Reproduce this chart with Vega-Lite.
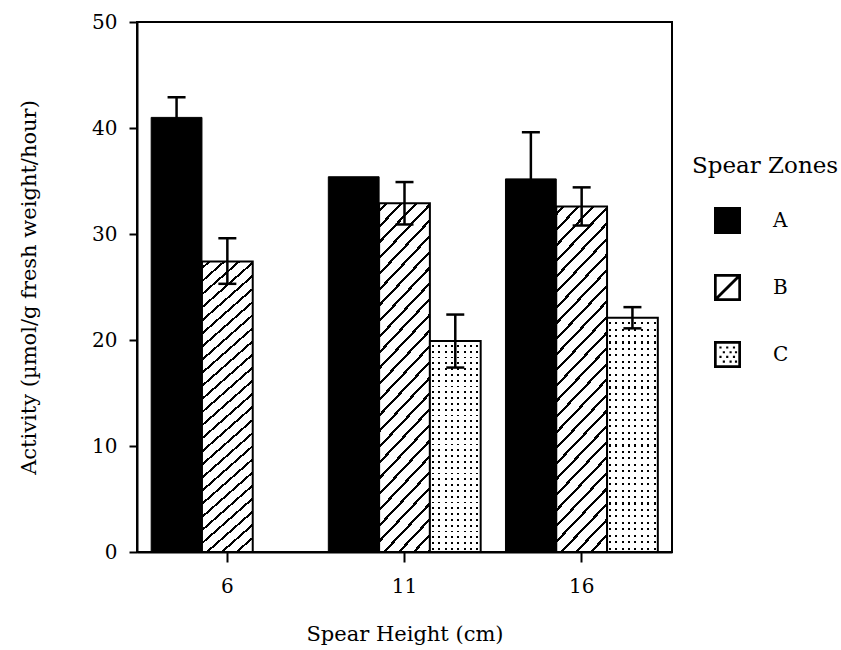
{
  "$schema": "https://vega.github.io/schema/vega-lite/v6.json",
  "width": 535,
  "height": 530,
  "autosize": {"type": "none"},
  "padding": {"left": 137, "top": 22, "right": 169, "bottom": 98},
  "background": "white",
  "config": {
    "view": {"stroke": "black", "strokeWidth": 2},
    "axis": {
      "domainColor": "black", "domainWidth": 2, "tickColor": "black", "tickWidth": 2,
      "labelFont": "DejaVu Serif", "labelFontSize": 20, "labelColor": "black",
      "titleFont": "DejaVu Serif", "titleFontSize": 21, "titleFontWeight": "normal", "titleColor": "black",
      "grid": false
    }
  },
  "data": {"values": [
    {"height": 6, "zone": "A", "value": 41.0, "lo": 39.1, "hi": 42.9},
    {"height": 6, "zone": "B", "value": 27.4, "lo": 25.3, "hi": 29.6},
    {"height": 11, "zone": "A", "value": 35.4, "lo": null, "hi": null},
    {"height": 11, "zone": "B", "value": 32.9, "lo": 30.9, "hi": 34.9},
    {"height": 11, "zone": "C", "value": 19.9, "lo": 17.4, "hi": 22.4},
    {"height": 16, "zone": "A", "value": 35.2, "lo": 30.8, "hi": 39.6},
    {"height": 16, "zone": "B", "value": 32.6, "lo": 30.8, "hi": 34.4},
    {"height": 16, "zone": "C", "value": 22.1, "lo": 21.1, "hi": 23.1}
  ]},
  "encoding": {
    "x": {"field": "height", "type": "ordinal", "title": "Spear Height (cm)",
      "scale": {"paddingInner": 0.14, "paddingOuter": 0.08},
      "axis": {"labelAngle": 0, "tickSize": 10, "labelPadding": 14, "titlePadding": 27}},
    "xOffset": {"field": "zone", "type": "nominal", "scale": {"domain": ["A", "B", "C"], "paddingInner": 0, "paddingOuter": 0}}
  },
  "layer": [
    {
      "transform": [{"filter": "datum.zone === 'A'"}],
      "mark": {"type": "bar", "fill": "black", "stroke": "black", "strokeWidth": 1},
      "encoding": {"y": {"field": "value", "type": "quantitative", "title": "Activity (µmol/g fresh weight/hour)",
        "scale": {"domain": [0, 50], "nice": false},
        "axis": {"values": [0, 10, 20, 30, 40, 50], "tickSize": 8, "labelPadding": 12, "titlePadding": 52}}}
    },
    {
      "transform": [{"filter": "datum.zone === 'B'"}],
      "mark": {"type": "bar", "stroke": "black", "strokeWidth": 2,
        "fill": {"gradient": "linear", "x1": 0, "y1": 0, "x2": 1, "y2": 6.48, "stops": [
          {"offset": 0, "color": "#fff"},
          {"offset": 0.0027, "color": "#fff"}, {"offset": 0.0027, "color": "#000"}, {"offset": 0.0041, "color": "#000"}, {"offset": 0.0041, "color": "#fff"},
          {"offset": 0.0095, "color": "#fff"}, {"offset": 0.0095, "color": "#000"}, {"offset": 0.0109, "color": "#000"}, {"offset": 0.0109, "color": "#fff"},
          {"offset": 0.0163, "color": "#fff"}, {"offset": 0.0163, "color": "#000"}, {"offset": 0.0177, "color": "#000"}, {"offset": 0.0177, "color": "#fff"},
          {"offset": 0.0231, "color": "#fff"}, {"offset": 0.0231, "color": "#000"}, {"offset": 0.0245, "color": "#000"}, {"offset": 0.0245, "color": "#fff"},
          {"offset": 0.0299, "color": "#fff"}, {"offset": 0.0299, "color": "#000"}, {"offset": 0.0313, "color": "#000"}, {"offset": 0.0313, "color": "#fff"},
          {"offset": 0.0367, "color": "#fff"}, {"offset": 0.0367, "color": "#000"}, {"offset": 0.0381, "color": "#000"}, {"offset": 0.0381, "color": "#fff"},
          {"offset": 0.0435, "color": "#fff"}, {"offset": 0.0435, "color": "#000"}, {"offset": 0.0449, "color": "#000"}, {"offset": 0.0449, "color": "#fff"},
          {"offset": 0.0503, "color": "#fff"}, {"offset": 0.0503, "color": "#000"}, {"offset": 0.0517, "color": "#000"}, {"offset": 0.0517, "color": "#fff"},
          {"offset": 0.0571, "color": "#fff"}, {"offset": 0.0571, "color": "#000"}, {"offset": 0.0585, "color": "#000"}, {"offset": 0.0585, "color": "#fff"},
          {"offset": 0.0639, "color": "#fff"}, {"offset": 0.0639, "color": "#000"}, {"offset": 0.0653, "color": "#000"}, {"offset": 0.0653, "color": "#fff"},
          {"offset": 0.0707, "color": "#fff"}, {"offset": 0.0707, "color": "#000"}, {"offset": 0.0721, "color": "#000"}, {"offset": 0.0721, "color": "#fff"},
          {"offset": 0.0775, "color": "#fff"}, {"offset": 0.0775, "color": "#000"}, {"offset": 0.0789, "color": "#000"}, {"offset": 0.0789, "color": "#fff"},
          {"offset": 0.0843, "color": "#fff"}, {"offset": 0.0843, "color": "#000"}, {"offset": 0.0857, "color": "#000"}, {"offset": 0.0857, "color": "#fff"},
          {"offset": 0.0911, "color": "#fff"}, {"offset": 0.0911, "color": "#000"}, {"offset": 0.0925, "color": "#000"}, {"offset": 0.0925, "color": "#fff"},
          {"offset": 0.0979, "color": "#fff"}, {"offset": 0.0979, "color": "#000"}, {"offset": 0.0993, "color": "#000"}, {"offset": 0.0993, "color": "#fff"},
          {"offset": 0.1047, "color": "#fff"}, {"offset": 0.1047, "color": "#000"}, {"offset": 0.1061, "color": "#000"}, {"offset": 0.1061, "color": "#fff"},
          {"offset": 0.1115, "color": "#fff"}, {"offset": 0.1115, "color": "#000"}, {"offset": 0.1129, "color": "#000"}, {"offset": 0.1129, "color": "#fff"},
          {"offset": 0.1183, "color": "#fff"}, {"offset": 0.1183, "color": "#000"}, {"offset": 0.1197, "color": "#000"}, {"offset": 0.1197, "color": "#fff"},
          {"offset": 0.1251, "color": "#fff"}, {"offset": 0.1251, "color": "#000"}, {"offset": 0.1265, "color": "#000"}, {"offset": 0.1265, "color": "#fff"},
          {"offset": 0.1319, "color": "#fff"}, {"offset": 0.1319, "color": "#000"}, {"offset": 0.1333, "color": "#000"}, {"offset": 0.1333, "color": "#fff"},
          {"offset": 0.1387, "color": "#fff"}, {"offset": 0.1387, "color": "#000"}, {"offset": 0.1401, "color": "#000"}, {"offset": 0.1401, "color": "#fff"},
          {"offset": 0.1455, "color": "#fff"}, {"offset": 0.1455, "color": "#000"}, {"offset": 0.1469, "color": "#000"}, {"offset": 0.1469, "color": "#fff"},
          {"offset": 0.1523, "color": "#fff"}, {"offset": 0.1523, "color": "#000"}, {"offset": 0.1537, "color": "#000"}, {"offset": 0.1537, "color": "#fff"},
          {"offset": 0.1591, "color": "#fff"}, {"offset": 0.1591, "color": "#000"}, {"offset": 0.1605, "color": "#000"}, {"offset": 0.1605, "color": "#fff"},
          {"offset": 0.1659, "color": "#fff"}, {"offset": 0.1659, "color": "#000"}, {"offset": 0.1673, "color": "#000"}, {"offset": 0.1673, "color": "#fff"},
          {"offset": 0.1727, "color": "#fff"}, {"offset": 0.1727, "color": "#000"}, {"offset": 0.1741, "color": "#000"}, {"offset": 0.1741, "color": "#fff"},
          {"offset": 1, "color": "#fff"}
        ]}},
      "encoding": {"y": {"field": "value", "type": "quantitative", "title": "Activity (µmol/g fresh weight/hour)"}}
    },
    {
      "transform": [{"filter": "datum.zone === 'C'"}],
      "mark": {"type": "bar", "fill": "black"},
      "encoding": {"y": {"field": "value", "type": "quantitative", "title": "Activity (µmol/g fresh weight/hour)"}}
    },
    {
      "transform": [{"filter": "datum.zone === 'C'"}],
      "mark": {"type": "bar",
        "fill": {"gradient": "linear", "x1": 0, "y1": 0, "x2": 1, "y2": 0, "stops": [
          {"offset": 0, "color": "#fff"}, {"offset": 0.04, "color": "#fff"}, {"offset": 0.04, "color": "rgba(255,255,255,0)"}, {"offset": 0.08, "color": "rgba(255,255,255,0)"},
          {"offset": 0.08, "color": "#fff"}, {"offset": 0.165, "color": "#fff"}, {"offset": 0.165, "color": "rgba(255,255,255,0)"}, {"offset": 0.205, "color": "rgba(255,255,255,0)"},
          {"offset": 0.205, "color": "#fff"}, {"offset": 0.29, "color": "#fff"}, {"offset": 0.29, "color": "rgba(255,255,255,0)"}, {"offset": 0.33, "color": "rgba(255,255,255,0)"},
          {"offset": 0.33, "color": "#fff"}, {"offset": 0.415, "color": "#fff"}, {"offset": 0.415, "color": "rgba(255,255,255,0)"}, {"offset": 0.455, "color": "rgba(255,255,255,0)"},
          {"offset": 0.455, "color": "#fff"}, {"offset": 0.54, "color": "#fff"}, {"offset": 0.54, "color": "rgba(255,255,255,0)"}, {"offset": 0.58, "color": "rgba(255,255,255,0)"},
          {"offset": 0.58, "color": "#fff"}, {"offset": 0.665, "color": "#fff"}, {"offset": 0.665, "color": "rgba(255,255,255,0)"}, {"offset": 0.705, "color": "rgba(255,255,255,0)"},
          {"offset": 0.705, "color": "#fff"}, {"offset": 0.79, "color": "#fff"}, {"offset": 0.79, "color": "rgba(255,255,255,0)"}, {"offset": 0.83, "color": "rgba(255,255,255,0)"},
          {"offset": 0.83, "color": "#fff"}, {"offset": 0.915, "color": "#fff"}, {"offset": 0.915, "color": "rgba(255,255,255,0)"}, {"offset": 0.955, "color": "rgba(255,255,255,0)"},
          {"offset": 0.955, "color": "#fff"}, {"offset": 1, "color": "#fff"}
        ]}},
      "encoding": {"y": {"field": "value", "type": "quantitative", "title": "Activity (µmol/g fresh weight/hour)"}}
    },
    {
      "transform": [{"filter": "datum.zone === 'C'"}],
      "mark": {"type": "bar", "stroke": "black", "strokeWidth": 2,
        "fill": {"gradient": "linear", "x1": 0, "y1": 0, "x2": 0, "y2": 1, "stops": [
          {"offset": 0, "color": "#fff"}, {"offset": 0.0185, "color": "#fff"}, {"offset": 0.0185, "color": "rgba(255,255,255,0)"}, {"offset": 0.0275, "color": "rgba(255,255,255,0)"},
          {"offset": 0.0275, "color": "#fff"}, {"offset": 0.046, "color": "#fff"}, {"offset": 0.046, "color": "rgba(255,255,255,0)"}, {"offset": 0.055, "color": "rgba(255,255,255,0)"},
          {"offset": 0.055, "color": "#fff"}, {"offset": 0.0735, "color": "#fff"}, {"offset": 0.0735, "color": "rgba(255,255,255,0)"}, {"offset": 0.0825, "color": "rgba(255,255,255,0)"},
          {"offset": 0.0825, "color": "#fff"}, {"offset": 0.101, "color": "#fff"}, {"offset": 0.101, "color": "rgba(255,255,255,0)"}, {"offset": 0.11, "color": "rgba(255,255,255,0)"},
          {"offset": 0.11, "color": "#fff"}, {"offset": 0.1285, "color": "#fff"}, {"offset": 0.1285, "color": "rgba(255,255,255,0)"}, {"offset": 0.1375, "color": "rgba(255,255,255,0)"},
          {"offset": 0.1375, "color": "#fff"}, {"offset": 0.156, "color": "#fff"}, {"offset": 0.156, "color": "rgba(255,255,255,0)"}, {"offset": 0.165, "color": "rgba(255,255,255,0)"},
          {"offset": 0.165, "color": "#fff"}, {"offset": 0.1835, "color": "#fff"}, {"offset": 0.1835, "color": "rgba(255,255,255,0)"}, {"offset": 0.1925, "color": "rgba(255,255,255,0)"},
          {"offset": 0.1925, "color": "#fff"}, {"offset": 0.211, "color": "#fff"}, {"offset": 0.211, "color": "rgba(255,255,255,0)"}, {"offset": 0.22, "color": "rgba(255,255,255,0)"},
          {"offset": 0.22, "color": "#fff"}, {"offset": 0.2385, "color": "#fff"}, {"offset": 0.2385, "color": "rgba(255,255,255,0)"}, {"offset": 0.2475, "color": "rgba(255,255,255,0)"},
          {"offset": 0.2475, "color": "#fff"}, {"offset": 0.266, "color": "#fff"}, {"offset": 0.266, "color": "rgba(255,255,255,0)"}, {"offset": 0.275, "color": "rgba(255,255,255,0)"},
          {"offset": 0.275, "color": "#fff"}, {"offset": 0.2935, "color": "#fff"}, {"offset": 0.2935, "color": "rgba(255,255,255,0)"}, {"offset": 0.3025, "color": "rgba(255,255,255,0)"},
          {"offset": 0.3025, "color": "#fff"}, {"offset": 0.321, "color": "#fff"}, {"offset": 0.321, "color": "rgba(255,255,255,0)"}, {"offset": 0.33, "color": "rgba(255,255,255,0)"},
          {"offset": 0.33, "color": "#fff"}, {"offset": 0.3485, "color": "#fff"}, {"offset": 0.3485, "color": "rgba(255,255,255,0)"}, {"offset": 0.3575, "color": "rgba(255,255,255,0)"},
          {"offset": 0.3575, "color": "#fff"}, {"offset": 0.376, "color": "#fff"}, {"offset": 0.376, "color": "rgba(255,255,255,0)"}, {"offset": 0.385, "color": "rgba(255,255,255,0)"},
          {"offset": 0.385, "color": "#fff"}, {"offset": 0.4035, "color": "#fff"}, {"offset": 0.4035, "color": "rgba(255,255,255,0)"}, {"offset": 0.4125, "color": "rgba(255,255,255,0)"},
          {"offset": 0.4125, "color": "#fff"}, {"offset": 0.431, "color": "#fff"}, {"offset": 0.431, "color": "rgba(255,255,255,0)"}, {"offset": 0.44, "color": "rgba(255,255,255,0)"},
          {"offset": 0.44, "color": "#fff"}, {"offset": 0.4585, "color": "#fff"}, {"offset": 0.4585, "color": "rgba(255,255,255,0)"}, {"offset": 0.4675, "color": "rgba(255,255,255,0)"},
          {"offset": 0.4675, "color": "#fff"}, {"offset": 0.486, "color": "#fff"}, {"offset": 0.486, "color": "rgba(255,255,255,0)"}, {"offset": 0.495, "color": "rgba(255,255,255,0)"},
          {"offset": 0.495, "color": "#fff"}, {"offset": 0.5135, "color": "#fff"}, {"offset": 0.5135, "color": "rgba(255,255,255,0)"}, {"offset": 0.5225, "color": "rgba(255,255,255,0)"},
          {"offset": 0.5225, "color": "#fff"}, {"offset": 0.541, "color": "#fff"}, {"offset": 0.541, "color": "rgba(255,255,255,0)"}, {"offset": 0.55, "color": "rgba(255,255,255,0)"},
          {"offset": 0.55, "color": "#fff"}, {"offset": 0.5685, "color": "#fff"}, {"offset": 0.5685, "color": "rgba(255,255,255,0)"}, {"offset": 0.5775, "color": "rgba(255,255,255,0)"},
          {"offset": 0.5775, "color": "#fff"}, {"offset": 0.596, "color": "#fff"}, {"offset": 0.596, "color": "rgba(255,255,255,0)"}, {"offset": 0.605, "color": "rgba(255,255,255,0)"},
          {"offset": 0.605, "color": "#fff"}, {"offset": 0.6235, "color": "#fff"}, {"offset": 0.6235, "color": "rgba(255,255,255,0)"}, {"offset": 0.6325, "color": "rgba(255,255,255,0)"},
          {"offset": 0.6325, "color": "#fff"}, {"offset": 0.651, "color": "#fff"}, {"offset": 0.651, "color": "rgba(255,255,255,0)"}, {"offset": 0.66, "color": "rgba(255,255,255,0)"},
          {"offset": 0.66, "color": "#fff"}, {"offset": 0.6785, "color": "#fff"}, {"offset": 0.6785, "color": "rgba(255,255,255,0)"}, {"offset": 0.6875, "color": "rgba(255,255,255,0)"},
          {"offset": 0.6875, "color": "#fff"}, {"offset": 0.706, "color": "#fff"}, {"offset": 0.706, "color": "rgba(255,255,255,0)"}, {"offset": 0.715, "color": "rgba(255,255,255,0)"},
          {"offset": 0.715, "color": "#fff"}, {"offset": 0.7335, "color": "#fff"}, {"offset": 0.7335, "color": "rgba(255,255,255,0)"}, {"offset": 0.7425, "color": "rgba(255,255,255,0)"},
          {"offset": 0.7425, "color": "#fff"}, {"offset": 0.761, "color": "#fff"}, {"offset": 0.761, "color": "rgba(255,255,255,0)"}, {"offset": 0.77, "color": "rgba(255,255,255,0)"},
          {"offset": 0.77, "color": "#fff"}, {"offset": 0.7885, "color": "#fff"}, {"offset": 0.7885, "color": "rgba(255,255,255,0)"}, {"offset": 0.7975, "color": "rgba(255,255,255,0)"},
          {"offset": 0.7975, "color": "#fff"}, {"offset": 0.816, "color": "#fff"}, {"offset": 0.816, "color": "rgba(255,255,255,0)"}, {"offset": 0.825, "color": "rgba(255,255,255,0)"},
          {"offset": 0.825, "color": "#fff"}, {"offset": 0.8435, "color": "#fff"}, {"offset": 0.8435, "color": "rgba(255,255,255,0)"}, {"offset": 0.8525, "color": "rgba(255,255,255,0)"},
          {"offset": 0.8525, "color": "#fff"}, {"offset": 0.871, "color": "#fff"}, {"offset": 0.871, "color": "rgba(255,255,255,0)"}, {"offset": 0.88, "color": "rgba(255,255,255,0)"},
          {"offset": 0.88, "color": "#fff"}, {"offset": 0.8985, "color": "#fff"}, {"offset": 0.8985, "color": "rgba(255,255,255,0)"}, {"offset": 0.9075, "color": "rgba(255,255,255,0)"},
          {"offset": 0.9075, "color": "#fff"}, {"offset": 0.926, "color": "#fff"}, {"offset": 0.926, "color": "rgba(255,255,255,0)"}, {"offset": 0.935, "color": "rgba(255,255,255,0)"},
          {"offset": 0.935, "color": "#fff"}, {"offset": 0.9535, "color": "#fff"}, {"offset": 0.9535, "color": "rgba(255,255,255,0)"}, {"offset": 0.9625, "color": "rgba(255,255,255,0)"},
          {"offset": 0.9625, "color": "#fff"}, {"offset": 0.981, "color": "#fff"}, {"offset": 0.981, "color": "rgba(255,255,255,0)"}, {"offset": 0.99, "color": "rgba(255,255,255,0)"},
          {"offset": 0.99, "color": "#fff"}, {"offset": 1, "color": "#fff"}
        ]}},
      "encoding": {"y": {"field": "value", "type": "quantitative", "title": "Activity (µmol/g fresh weight/hour)"}}
    },
    {
      "mark": {"type": "point", "filled": true, "opacity": 0, "color": "black"},
      "encoding": {
        "y": {"field": "value", "type": "quantitative", "title": "Activity (µmol/g fresh weight/hour)"},
        "shape": {"field": "zone", "type": "nominal",
          "scale": {"domain": ["A", "B", "C"], "range": [
            "M-1,-1H1V1H-1Z",
            "M-1,-1H1V1H-1Z M-0.8,-0.8V0.8H0.8V-0.8Z M-0.8,0.65L0.65,-0.8H0.8V-0.65L-0.65,0.8H-0.8Z",
            "M-1,-1H1V1H-1Z M-0.8,-0.8V0.8H0.8V-0.8Z M-0.6,-0.6h0.16v0.16h-0.16Z M-0.1,-0.6h0.16v0.16h-0.16Z M0.4,-0.6h0.16v0.16h-0.16Z M-0.35,-0.25h0.16v0.16h-0.16Z M0.15,-0.25h0.16v0.16h-0.16Z M0.55,-0.25h0.16v0.16h-0.16Z M-0.6,0.1h0.16v0.16h-0.16Z M-0.1,0.1h0.16v0.16h-0.16Z M0.4,0.1h0.16v0.16h-0.16Z M-0.35,0.45h0.16v0.16h-0.16Z M0.15,0.45h0.16v0.16h-0.16Z M0.55,0.45h0.16v0.16h-0.16Z"
          ]},
          "legend": {
            "title": "Spear Zones", "orient": "none", "legendX": 555, "legendY": 133,
            "titleFont": "DejaVu Serif", "titleFontSize": 23, "titleFontWeight": "normal", "titleColor": "black", "titlePadding": 29,
            "labelFont": "DejaVu Serif", "labelFontSize": 20, "labelColor": "black", "labelOffset": 32,
            "symbolSize": 729, "symbolOffset": 22, "symbolFillColor": "black", "symbolStrokeWidth": 0, "symbolOpacity": 1,
            "rowPadding": 40, "padding": 0, "offset": 0
          }
        }
      }
    },
    {
      "transform": [{"filter": "datum.hi != null"}],
      "mark": {"type": "rule", "color": "black", "strokeWidth": 2.5},
      "encoding": {
        "y": {"field": "lo", "type": "quantitative", "title": "Activity (µmol/g fresh weight/hour)"},
        "y2": {"field": "hi"}
      }
    },
    {
      "transform": [{"filter": "datum.hi != null"}],
      "mark": {"type": "tick", "orient": "horizontal", "color": "black", "size": 18, "thickness": 2.5, "opacity": 1},
      "encoding": {"y": {"field": "hi", "type": "quantitative", "title": "Activity (µmol/g fresh weight/hour)"}}
    },
    {
      "transform": [{"filter": "datum.hi != null"}],
      "mark": {"type": "tick", "orient": "horizontal", "color": "black", "size": 18, "thickness": 2.5, "opacity": 1},
      "encoding": {"y": {"field": "lo", "type": "quantitative", "title": "Activity (µmol/g fresh weight/hour)"}}
    }
  ]
}
